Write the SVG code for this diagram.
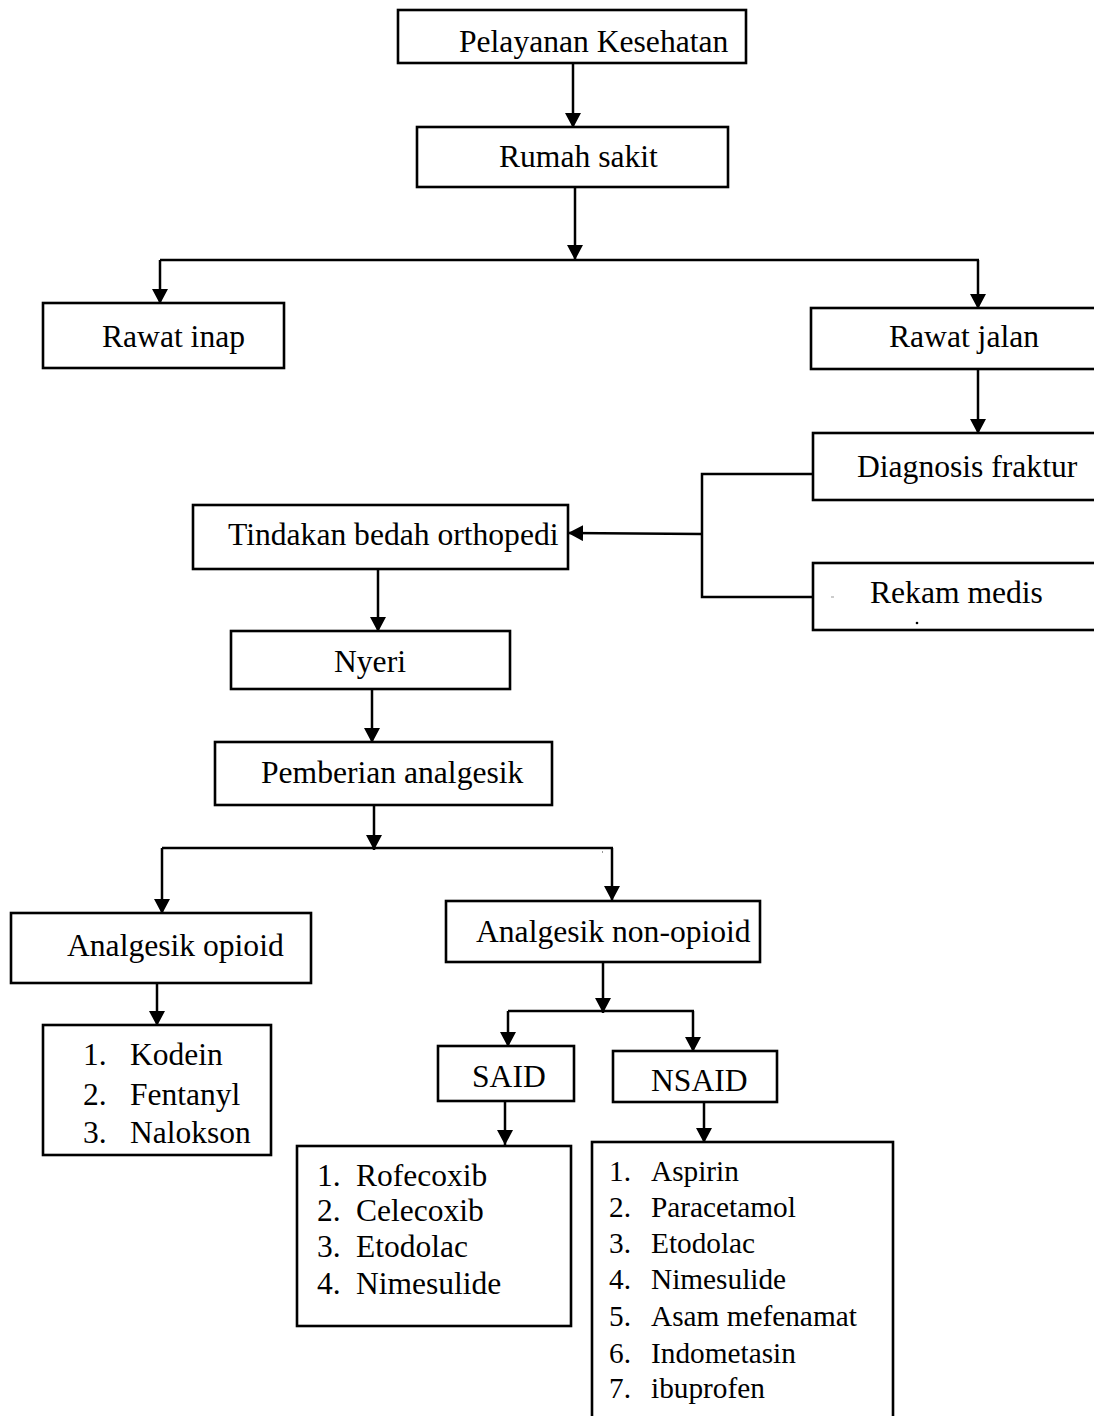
<svg xmlns="http://www.w3.org/2000/svg" width="1094" height="1416" viewBox="0 0 1094 1416">
<defs>
<marker id="ah" viewBox="0 0 15 16" refX="15" refY="8" markerWidth="15" markerHeight="16" markerUnits="userSpaceOnUse" orient="auto">
<path d="M0,0 L15,8 L0,16 z" fill="#000"/>
</marker>
<style>
rect.box{fill:#fff;stroke:#000;stroke-width:2.6}
text{font-family:"Liberation Serif","Times New Roman",serif;fill:#000}
text.t{font-size:31.6px}
text.l{font-size:31.5px}
text.s{font-size:29.3px}
.c line,.c polyline{stroke:#000;stroke-width:2.5;fill:none}
.c .a{marker-end:url(#ah)}
</style>
</defs>
<rect width="1094" height="1416" fill="#fff"/>
<g class="c" id="connectors">
<line class="a" x1="573" y1="63" x2="573" y2="128"/>
<line class="a" x1="575" y1="187" x2="575" y2="260"/>
<line x1="160" y1="260" x2="979" y2="260"/>
<line class="a" x1="160" y1="260" x2="160" y2="304"/>
<line class="a" x1="978" y1="260" x2="978" y2="309"/>
<line class="a" x1="978" y1="369" x2="978" y2="434"/>
<polyline points="813,474 702,474 702,597 813,597"/>
<line class="a" x1="702" y1="534" x2="568" y2="533"/>
<line class="a" x1="378" y1="569" x2="378" y2="632"/>
<line class="a" x1="372" y1="689" x2="372" y2="743"/>
<line class="a" x1="374" y1="805" x2="374" y2="850"/>
<line x1="162" y1="848" x2="613" y2="848"/>
<line class="a" x1="162" y1="848" x2="162" y2="914"/>
<line class="a" x1="612" y1="848" x2="612" y2="901"/>
<line class="a" x1="603" y1="962" x2="603" y2="1013"/>
<line x1="508" y1="1011" x2="694" y2="1011"/>
<line class="a" x1="508" y1="1011" x2="508" y2="1047"/>
<line class="a" x1="693" y1="1011" x2="693" y2="1052"/>
<line class="a" x1="157" y1="983" x2="157" y2="1026"/>
<line class="a" x1="505" y1="1101" x2="505" y2="1145"/>
<line class="a" x1="704" y1="1102" x2="704" y2="1143"/>
</g>
<g id="n-pelayanan"><rect class="box" x="398" y="10" width="348" height="53"/><text class="t" x="459" y="52">Pelayanan Kesehatan</text></g>
<g id="n-rumahsakit"><rect class="box" x="417" y="127" width="311" height="60"/><text class="t" x="499" y="167">Rumah sakit</text></g>
<g id="n-rawatinap"><rect class="box" x="43" y="303" width="241" height="65"/><text class="t" x="102" y="347">Rawat inap</text></g>
<g id="n-rawatjalan"><rect class="box" x="811" y="308" width="300" height="61"/><text class="t" x="889" y="347">Rawat jalan</text></g>
<g id="n-diagnosis"><rect class="box" x="813" y="433" width="300" height="67"/><text class="t" x="857" y="477">Diagnosis fraktur</text></g>
<g id="n-rekammedis"><rect class="box" x="813" y="563" width="300" height="67"/><text class="t" x="870" y="603">Rekam medis</text><rect x="831" y="596.5" width="3" height="1" fill="#999"/><circle cx="917" cy="623" r="1.3" fill="#000"/></g>
<g id="n-tindakan"><rect class="box" x="193" y="505" width="375" height="64"/><text class="t" x="228" y="545">Tindakan bedah orthopedi</text></g>
<g id="n-nyeri"><rect class="box" x="231" y="631" width="279" height="58"/><text class="t" x="334" y="672">Nyeri</text></g>
<g id="n-pemberian"><rect class="box" x="215" y="742" width="337" height="63"/><text class="t" x="261" y="783">Pemberian analgesik</text></g>
<g id="n-opioid"><rect class="box" x="11" y="913" width="300" height="70"/><text class="t" x="67" y="956">Analgesik opioid</text></g>
<g id="n-nonopioid"><rect class="box" x="446" y="901" width="314" height="61"/><text class="t" x="476" y="942">Analgesik non-opioid</text><rect x="602" y="851" width="1" height="2" fill="#999"/></g>
<g id="n-opioid-list"><rect class="box" x="43" y="1025" width="228" height="130"/>
<text class="l" x="83" y="1065">1.</text><text class="l" x="130" y="1065">Kodein</text>
<text class="l" x="83" y="1105">2.</text><text class="l" x="130" y="1105">Fentanyl</text>
<text class="l" x="83" y="1143">3.</text><text class="l" x="130" y="1143">Nalokson</text></g>
<g id="n-said"><rect class="box" x="438" y="1046" width="136" height="55"/><text class="t" x="472" y="1087">SAID</text></g>
<g id="n-nsaid"><rect class="box" x="613" y="1051" width="164" height="51"/><text class="t" x="651" y="1091">NSAID</text></g>
<g id="n-said-list"><rect class="box" x="297" y="1146" width="274" height="180"/>
<text class="l" x="317" y="1186">1.</text><text class="l" x="356" y="1186">Rofecoxib</text>
<text class="l" x="317" y="1221">2.</text><text class="l" x="356" y="1221">Celecoxib</text>
<text class="l" x="317" y="1257">3.</text><text class="l" x="356" y="1257">Etodolac</text>
<text class="l" x="317" y="1294">4.</text><text class="l" x="356" y="1294">Nimesulide</text></g>
<g id="n-nsaid-list"><rect class="box" x="592" y="1142" width="301" height="290"/>
<text class="s" x="609" y="1181">1.</text><text class="s" x="651" y="1181">Aspirin</text>
<text class="s" x="609" y="1217">2.</text><text class="s" x="651" y="1217">Paracetamol</text>
<text class="s" x="609" y="1253">3.</text><text class="s" x="651" y="1253">Etodolac</text>
<text class="s" x="609" y="1289">4.</text><text class="s" x="651" y="1289">Nimesulide</text>
<text class="s" x="609" y="1326">5.</text><text class="s" x="651" y="1326">Asam mefenamat</text>
<text class="s" x="609" y="1363">6.</text><text class="s" x="651" y="1363">Indometasin</text>
<text class="s" x="609" y="1398">7.</text><text class="s" x="651" y="1398">ibuprofen</text></g>
</svg>
